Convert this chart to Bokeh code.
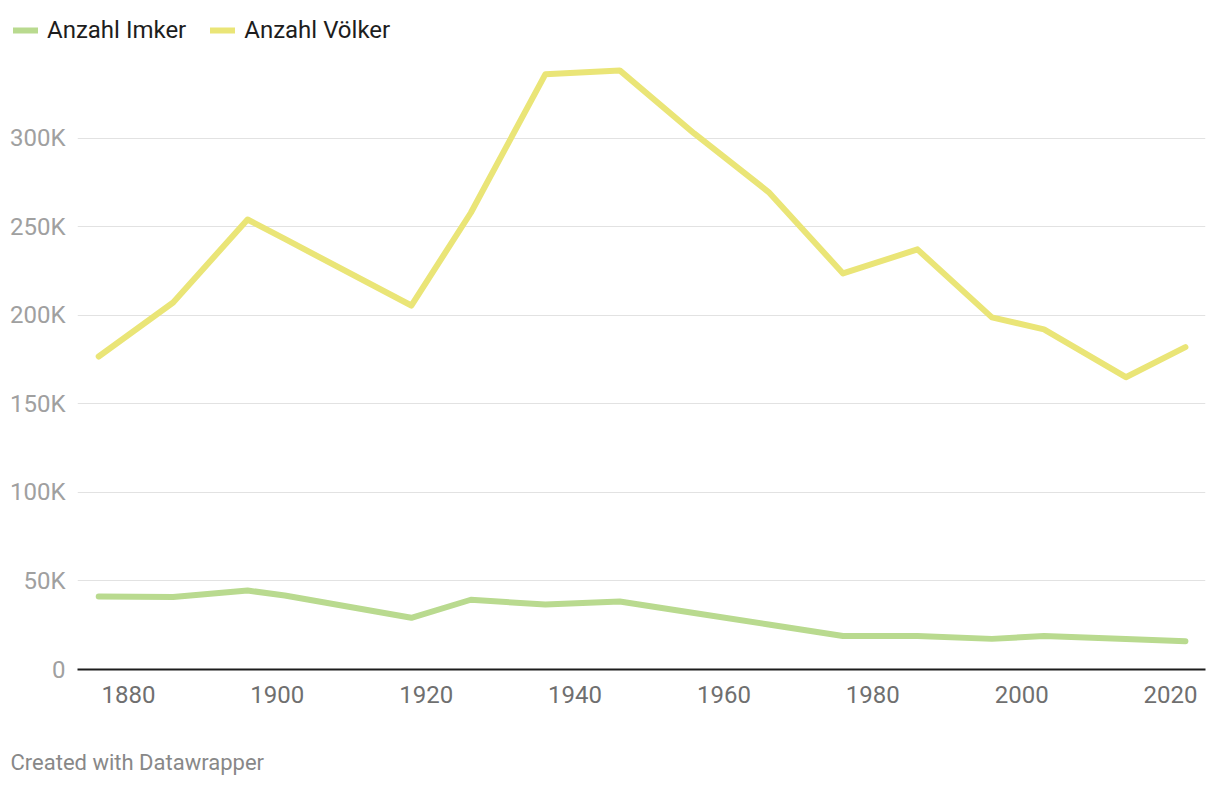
from bokeh.plotting import figure
from bokeh.layouts import column
from bokeh.models import (ColumnDataSource, Legend, LegendItem, Range1d, FixedTicker,
                          Label)
from bokeh.embed import file_html
from bokeh.resources import INLINE

# ---- data ----
years = [1876, 1886, 1896, 1901, 1918, 1926, 1936, 1946, 1956, 1966, 1976, 1986, 1996, 2003, 2014, 2022]
imker = [41200, 41000, 44600, 41800, 29200, 39400, 36700, 38400, 31900, 25400, 18900, 18900, 17300, 18900, 17200, 16000]
voelker = [176800, 207300, 254200, 243200, 205600, 258000, 336200, 338400, 302800, 269700, 223700, 237300, 198900, 192100, 165100, 182100]

x_ticks = [1880, 1900, 1920, 1940, 1960, 1980, 2000, 2020]
y_ticks = [0, 50000, 100000, 150000, 200000, 250000, 300000]
y_tick_labels = ["0", "50K", "100K", "150K", "200K", "250K", "300K"]

series_names = ["Anzahl Imker", "Anzahl Völker"]
series_colors = ["#b9da8f", "#eae577"]
series_fields = ["imker", "voelker"]

FONT = "Roboto"
LW = 6

source = ColumnDataSource(dict(year=years, imker=imker, voelker=voelker))


def strip(height):
    f = figure(width=1220, height=height, output_backend="svg", toolbar_location=None,
               x_range=Range1d(0, 1), y_range=Range1d(0, 1),
               min_border=0, x_axis_type=None, y_axis_type=None)
    f.outline_line_color = None
    f.xgrid.visible = False
    f.ygrid.visible = False
    f.margin = (0, 0, 0, -67)
    return f


# ---------- legend strip ----------
pl = strip(60)
lr = [pl.line("year", fld, source=source, line_color=c, line_width=LW, line_cap="round")
      for fld, c in zip(series_fields, series_colors)]
legend = Legend(items=[LegendItem(label=n, renderers=[r]) for n, r in zip(series_names, lr)],
                orientation="horizontal", location=(3, 16),
                padding=0, margin=0, spacing=24,
                glyph_width=25, glyph_height=20, label_height=28,
                label_standoff=9,
                label_text_font=FONT, label_text_font_size="24px",
                label_text_color="#1d1d1d", label_text_baseline="middle",
                border_line_alpha=0, background_fill_alpha=0)
pl.add_layout(legend, "center")

# ---------- main chart ----------
p = figure(width=1220, height=666, output_backend="svg", toolbar_location=None,
           x_range=Range1d(1873.15, 2024.7), y_range=Range1d(0, 344000),
           min_border_left=77, min_border_right=15, min_border_top=0, min_border_bottom=57)
p.outline_line_color = None
p.background_fill_color = "white"
p.border_fill_color = "white"

for fld, c in zip(series_fields, series_colors):
    p.line("year", fld, source=source, line_color=c, line_width=LW,
           line_cap="round", line_join="round")

p.xaxis.ticker = FixedTicker(ticks=x_ticks)
p.xaxis.major_tick_line_color = None
p.xaxis.minor_tick_line_color = None
p.xaxis.axis_line_color = "#1d1d1d"
p.xaxis.axis_line_width = 2
p.xaxis.major_label_text_font = FONT
p.xaxis.major_label_text_font_size = "24px"
p.xaxis.major_label_text_color = "#6f6f6f"
p.xaxis.major_label_standoff = 10

p.yaxis.ticker = FixedTicker(ticks=y_ticks)
p.yaxis.major_label_overrides = {t: l for t, l in zip(y_ticks, y_tick_labels)}
p.yaxis.major_tick_line_color = None
p.yaxis.minor_tick_line_color = None
p.yaxis.axis_line_color = None
p.yaxis.major_label_text_font = FONT
p.yaxis.major_label_text_font_size = "24px"
p.yaxis.major_label_text_color = "#a0a0a0"
p.yaxis.major_label_standoff = 6

p.xgrid.grid_line_color = None
p.ygrid.ticker = FixedTicker(ticks=y_ticks[1:])
p.ygrid.grid_line_color = "#e2e2e2"
p.ygrid.grid_line_width = 1

# ---------- footer strip ----------
pf = strip(60)
pf.add_layout(Label(x=0, y=24, x_units="screen", y_units="screen",
                    text="Created with Datawrapper", text_font=FONT, text_font_size="22px",
                    text_color="#888888", text_baseline="middle", text_align="left"))

layout = column(pl, p, pf, spacing=0)
open("out.html", "w").write(file_html(layout, INLINE))
